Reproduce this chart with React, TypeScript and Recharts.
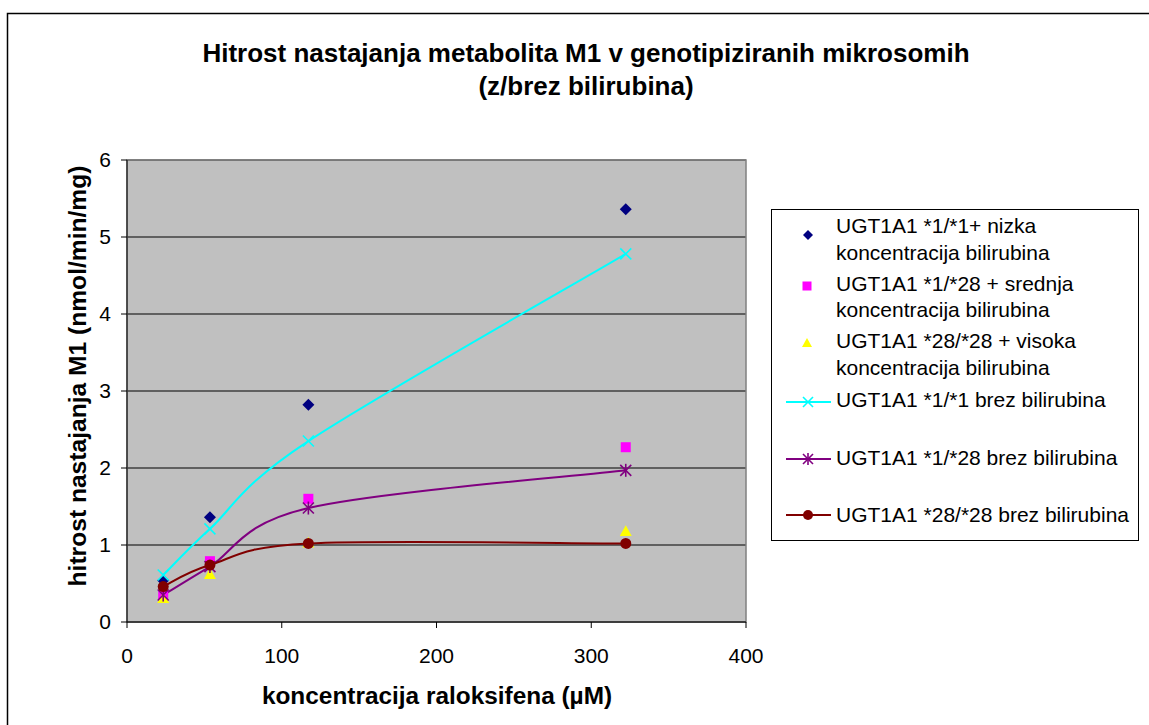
import React from 'react';
import { ComposedChart, XAxis, YAxis, CartesianGrid, Scatter, Line, ReferenceArea } from 'recharts';

// ---- data ----
const concentrations = [23.4, 53.6, 117.2, 322.3];
const nizkaBilirubin = [0.54, 1.36, 2.82, 5.36];
const srednjaBilirubin = [0.35, 0.79, 1.6, 2.27];
const visokaBilirubin = [0.31, 0.62, 1.03, 1.18];
const brez11 = [0.61, 1.21, 2.35, 4.78];
const brez128 = [0.35, 0.72, 1.48, 1.97];
const brez2828 = [0.46, 0.74, 1.02, 1.02];
const xTicks = [0, 100, 200, 300, 400];
const yTicks = [0, 1, 2, 3, 4, 5, 6];
const titleLines = ['Hitrost nastajanja metabolita M1 v genotipiziranih mikrosomih', '(z/brez bilirubina)'];
const xTitle = 'koncentracija raloksifena (µM)';
const yTitle = 'hitrost nastajanja M1 (nmol/min/mg)';
const legendLabels = [
  ['UGT1A1 *1/*1+ nizka', 'koncentracija bilirubina'],
  ['UGT1A1 *1/*28 + srednja', 'koncentracija bilirubina'],
  ['UGT1A1 *28/*28 + visoka', 'koncentracija bilirubina'],
  ['UGT1A1 *1/*1 brez bilirubina'],
  ['UGT1A1 *1/*28 brez bilirubina'],
  ['UGT1A1 *28/*28 brez bilirubina'],
];

const toPoints = (ys: number[]) => concentrations.map((x, i) => ({ x, y: ys[i] }));

// Excel-like smoothed line (Catmull-Rom style bezier)
const excelSmooth: any = (context: any) => {
  let pts: [number, number][] = [];
  return {
    areaStart() {},
    areaEnd() {},
    lineStart() {
      pts = [];
    },
    lineEnd() {
      if (!pts.length) return;
      context.moveTo(pts[0][0], pts[0][1]);
      for (let i = 0; i < pts.length - 1; i++) {
        const p0 = pts[Math.max(i - 1, 0)];
        const p1 = pts[i];
        const p2 = pts[i + 1];
        const p3 = pts[Math.min(i + 2, pts.length - 1)];
        context.bezierCurveTo(
          p1[0] + (p2[0] - p0[0]) / 6,
          p1[1] + (p2[1] - p0[1]) / 6,
          p2[0] - (p3[0] - p1[0]) / 6,
          p2[1] - (p3[1] - p1[1]) / 6,
          p2[0],
          p2[1]
        );
      }
    },
    point(x: number, y: number) {
      pts.push([+x, +y]);
    },
  };
};

const NAVY = '#000080';
const MAGENTA = '#FF00FF';
const YELLOW = '#FFFF00';
const CYAN = '#00FFFF';
const PURPLE = '#800080';
const DARKRED = '#800000';

const Diamond = ({ cx, cy, r = 6 }: any) => (
  <polygon points={`${cx},${cy - r} ${cx + r},${cy} ${cx},${cy + r} ${cx - r},${cy}`} fill={NAVY} />
);
const Square = ({ cx, cy, r = 5 }: any) => <rect x={cx - r} y={cy - r} width={2 * r} height={2 * r} fill={MAGENTA} />;
const Triangle = ({ cx, cy, r = 6 }: any) => (
  <polygon points={`${cx},${cy - r} ${cx + r},${cy + r * 0.8} ${cx - r},${cy + r * 0.8}`} fill={YELLOW} />
);
const XMark = ({ cx, cy, r = 5.5 }: any) => (
  <g stroke={CYAN} strokeWidth={1.6}>
    <line x1={cx - r} y1={cy - r} x2={cx + r} y2={cy + r} />
    <line x1={cx - r} y1={cy + r} x2={cx + r} y2={cy - r} />
  </g>
);
const Star = ({ cx, cy, r = 5.5 }: any) => (
  <g stroke={PURPLE} strokeWidth={1.6}>
    <line x1={cx - r} y1={cy - r} x2={cx + r} y2={cy + r} />
    <line x1={cx - r} y1={cy + r} x2={cx + r} y2={cy - r} />
    <line x1={cx} y1={cy - r - 1} x2={cx} y2={cy + r + 1} />
  </g>
);
const Dot = ({ cx, cy, r = 5.5 }: any) => <circle cx={cx} cy={cy} r={r} fill={DARKRED} />;

const legendBaselines = [[233, 260], [291, 317], [348, 375], [407], [465], [522]];
const legendIconY = [235, 286, 343, 402, 459, 515];

export default function App() {
  const font = 'Arial, "Liberation Sans", sans-serif';
  return (
    <div style={{ position: 'absolute', left: 0, top: 0, width: 1149, height: 725, overflow: 'hidden', background: '#fff', fontFamily: font }}>
      <ComposedChart width={1149} height={725} margin={{ top: 160, right: 403, bottom: 63, left: 67 }}>
        <CartesianGrid vertical={false} fill="#C0C0C0" fillOpacity={1} stroke="#000" strokeOpacity={1} />
        <ReferenceArea x1={0} x2={400} y1={0} y2={6} fill="none" stroke="#808080" strokeWidth={1.5} ifOverflow="visible" />
        <XAxis
          type="number"
          dataKey="x"
          domain={[0, 400]}
          ticks={xTicks}
          interval={0}
          height={40}
          tickSize={6}
          tickMargin={20}
          tick={{ fill: '#000', fontSize: 21 }}
          tickLine={{ stroke: '#000' }}
          axisLine={{ stroke: '#000' }}
          allowDataOverflow
        />
        <YAxis
          type="number"
          dataKey="y"
          domain={[0, 6]}
          ticks={yTicks}
          interval={0}
          width={60}
          tickSize={6}
          tickMargin={10}
          tick={{ fill: '#000', fontSize: 21 }}
          tickLine={{ stroke: '#000' }}
          axisLine={{ stroke: '#000' }}
          allowDataOverflow
        />
        <Scatter data={toPoints(nizkaBilirubin)} dataKey="y" isAnimationActive={false} shape={(p: any) => <Diamond cx={p.cx} cy={p.cy} />} />
        <Scatter data={toPoints(srednjaBilirubin)} dataKey="y" isAnimationActive={false} shape={(p: any) => <Square cx={p.cx} cy={p.cy} />} />
        <Scatter data={toPoints(visokaBilirubin)} dataKey="y" isAnimationActive={false} shape={(p: any) => <Triangle cx={p.cx} cy={p.cy} />} />
        <Line
          data={toPoints(brez11)}
          dataKey="y"
          type={excelSmooth}
          stroke={CYAN}
          strokeWidth={2}
          isAnimationActive={false}
          dot={(p: any) => <XMark key={`c${p.index}`} cx={p.cx} cy={p.cy} />}
          activeDot={false}
        />
        <Line
          data={toPoints(brez128)}
          dataKey="y"
          type={excelSmooth}
          stroke={PURPLE}
          strokeWidth={2}
          isAnimationActive={false}
          dot={(p: any) => <Star key={`p${p.index}`} cx={p.cx} cy={p.cy} />}
          activeDot={false}
        />
        <Line
          data={toPoints(brez2828)}
          dataKey="y"
          type={excelSmooth}
          stroke={DARKRED}
          strokeWidth={2}
          isAnimationActive={false}
          dot={(p: any) => <Dot key={`d${p.index}`} cx={p.cx} cy={p.cy} />}
          activeDot={false}
        />
      </ComposedChart>
      <svg width={1149} height={725} style={{ position: 'absolute', left: 0, top: 0, pointerEvents: 'none' }} fontFamily={font}>
        <rect x={7.5} y={13.5} width={1300} height={900} fill="none" stroke="#000" strokeWidth={1.5} />
        <text x={586} y={62} fontSize={26} fontWeight="bold" textAnchor="middle" fill="#000">{titleLines[0]}</text>
        <text x={586} y={95} fontSize={26} fontWeight="bold" textAnchor="middle" fill="#000">{titleLines[1]}</text>
        <text x={437} y={704} fontSize={24.4} fontWeight="bold" textAnchor="middle" fill="#000">{xTitle}</text>
        <text transform="translate(86,376) rotate(-90)" fontSize={24.6} fontWeight="bold" textAnchor="middle" fill="#000">{yTitle}</text>
        <rect x={771.5} y={209.5} width={367} height={331} fill="#fff" stroke="#000" strokeWidth={1} />
        {legendLabels.map((lines, i) => (
          <g key={i}>
            {lines.map((t, j) => (
              <text key={j} x={836} y={legendBaselines[i][j]} fontSize={21} fill="#000">{t}</text>
            ))}
          </g>
        ))}
        <Diamond cx={808} cy={legendIconY[0]} r={5} />
        <Square cx={807} cy={legendIconY[1]} r={4.5} />
        <Triangle cx={807} cy={legendIconY[2]} r={5} />
        <line x1={786} x2={831} y1={legendIconY[3]} y2={legendIconY[3]} stroke={CYAN} strokeWidth={2} />
        <XMark cx={808} cy={legendIconY[3]} r={5} />
        <line x1={786} x2={831} y1={legendIconY[4]} y2={legendIconY[4]} stroke={PURPLE} strokeWidth={2} />
        <Star cx={808} cy={legendIconY[4]} r={5} />
        <line x1={786} x2={831} y1={legendIconY[5]} y2={legendIconY[5]} stroke={DARKRED} strokeWidth={2} />
        <Dot cx={808} cy={legendIconY[5]} r={5} />
      </svg>
    </div>
  );
}
